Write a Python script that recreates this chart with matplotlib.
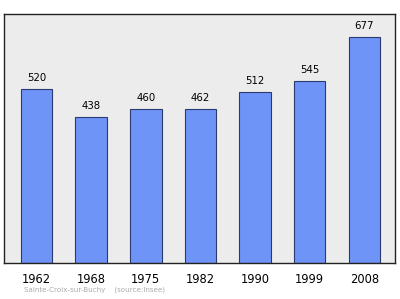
import matplotlib
matplotlib.use("Agg")
import matplotlib.pyplot as plt

years = ["1962", "1968", "1975", "1982", "1990", "1999", "2008"]
population = [520, 438, 460, 462, 512, 545, 677]

BAR_COLOR = "#6f94f8"
EDGE_COLOR = "#2a3a6e"
BG_COLOR = "#ececec"

fig = plt.figure(figsize=(4.0, 2.99), dpi=100)
ax = fig.add_axes([0.01, 0.1204, 0.9775, 0.8326])
ax.set_facecolor(BG_COLOR)

x = range(len(years))
ax.bar(x, population, width=0.576, color=BAR_COLOR, edgecolor=EDGE_COLOR, linewidth=0.8)
for xi, v in zip(x, population):
    ax.text(xi, v + 18, str(v), ha="center", va="bottom", fontsize=7.3)

ax.set_xlim(-0.595, 6.56)
ax.set_ylim(0, max(population) * 1.1)
ax.set_yticks([])
ax.set_xticks(list(x))
ax.set_xticklabels(years, fontsize=8.3)
ax.tick_params(axis="x", length=0, pad=7)
for s in ax.spines.values():
    s.set_color("#222222")
    s.set_linewidth(1.0)

fig.text(0.06, 0.02, "Sainte-Croix-sur-Buchy    (source:Insee)", fontsize=5.1,
         color="#aaaaaa", ha="left", va="bottom")

fig.savefig("out.png", dpi=100)
